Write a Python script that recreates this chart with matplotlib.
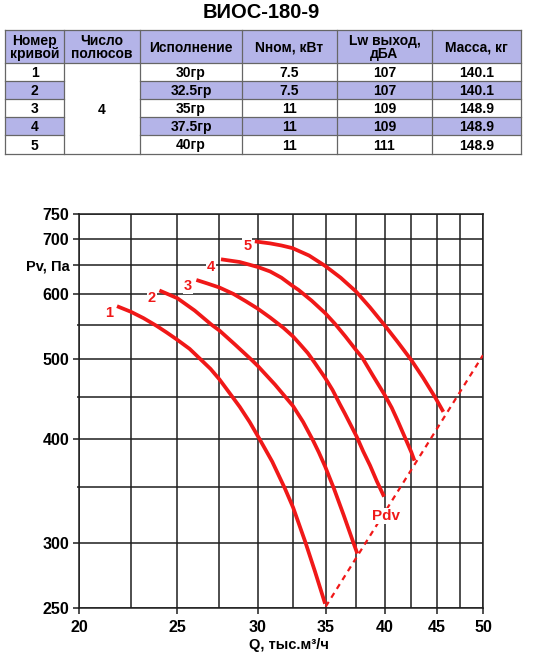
import matplotlib.pyplot as plt
from matplotlib.patches import Rectangle
from matplotlib.ticker import NullFormatter

plt.rcParams['font.family'] = ['Liberation Sans', 'DejaVu Sans']
plt.rcParams['font.weight'] = 'bold'

# ---------------- данные ----------------
title = 'ВИОС-180-9'

headers = ['Номер\nкривой', 'Число\nполюсов', 'Исполнение', 'Nном, кВт', 'Lw выход,\nдБА', 'Масса, кг']
curve_no = ['1', '2', '3', '4', '5']
poles = '4'
version = ['30гр', '32.5гр', '35гр', '37.5гр', '40гр']
power = ['7.5', '7.5', '11', '11', '11']
lw_out = ['107', '107', '109', '109', '111']
mass = ['140.1', '140.1', '148.9', '148.9', '148.9']

# кривые Pv(Q), Q в тыс. м3/ч, Pv в Па
q1 = [21.8, 22.5, 23.15, 23.85, 24.4, 25.0, 25.7, 26.4, 26.95, 27.5, 28.3, 28.8, 29.45, 30.1,
      31.0, 31.9, 32.5, 33.4, 34.15, 34.95]
p1 = [580, 571, 561, 549, 539, 528, 515, 499, 487, 473, 451, 438, 420, 401,
      376, 349, 331, 301, 277, 253]
q2 = [24.0, 25.0, 26.0, 27.0, 27.5, 28.5, 29.6, 30.0, 31.2, 32.5, 33.25, 34.0, 34.45, 34.95,
      35.65, 36.45, 37.3, 37.6]
p2 = [606, 593, 573, 551, 542, 521, 499, 491, 466, 439, 420, 399, 386, 371,
      349, 324, 299, 291]
q3 = [26.1, 26.75, 27.5, 28.4, 29.2, 30.0, 30.85, 31.8, 32.5, 33.0, 33.6, 34.15, 34.95, 35.55,
      36.15, 36.55, 37.55, 38.1, 38.7, 39.3, 39.95]
p3 = [624, 618, 611, 600, 588, 576, 562, 546, 533, 522, 509, 495, 475, 459,
      441, 430, 403, 387, 372, 356, 341]
q4 = [27.6, 28.8, 30.0, 30.85, 31.65, 32.45, 32.9, 33.9, 34.95, 35.75, 36.6, 37.5, 38.0, 38.95,
      40.0, 40.65, 41.2, 41.75, 42.5, 42.8]
p4 = [661, 656, 647, 639, 628, 614, 607, 589, 569, 552, 533, 513, 503, 478,
      453, 437, 421.5, 406, 386, 377]
q5 = [29.8, 30.3, 30.85, 31.65, 32.45, 33.7, 34.95, 36.2, 37.5, 38.7, 40.0, 41.2, 42.5, 43.65,
      44.85, 45.7]
p5 = [695, 693, 691, 687, 682, 668, 649, 628, 604, 578, 550, 525, 499, 475,
      450, 432]
curves = [(q1, p1), (q2, p2), (q3, p3), (q4, p4), (q5, p5)]

# подписи кривых
label_q = [21.4, 23.6, 25.6, 27.0, 29.3]
label_p = [569, 593, 613, 647, 686]

# динамическое давление
pdv_q = [35.0, 50.0]
pdv_p = [251, 506]

x_major = [20, 25, 30, 35, 40, 45, 50]
x_minor = [22.5, 27.5, 32.5, 37.5, 42.5, 47.5]
y_major = [250, 300, 400, 500, 600, 650, 700, 750]
y_labels = ['250', '300', '400', '500', '600', 'Pv, Па', '700', '750']
y_minor = [350, 450, 550]

RED = '#f01818'
LAV = '#b4b4e8'
GRID = '#1e1e1e'

fig = plt.figure(figsize=(5.35, 6.7), dpi=100)

# ---------------- таблица (в пикселях) ----------------
tab = fig.add_axes([0, 1 - 160 / 670, 1, 160 / 670])
tab.set_xlim(0, 535)
tab.set_ylim(160, 0)
tab.axis('off')

cx = [5, 64, 140, 242, 337, 432, 521]
ry = [30, 63, 81, 99, 117, 135, 154]

# фон
for j in range(6):
    tab.add_patch(Rectangle((cx[j], ry[0]), cx[j + 1] - cx[j], ry[1] - ry[0], fc=LAV, ec='none'))
for i in (1, 3):
    for j in (0, 2, 3, 4, 5):
        tab.add_patch(Rectangle((cx[j], ry[i + 1]), cx[j + 1] - cx[j], ry[i + 2] - ry[i + 1],
                                fc=LAV, ec='none'))

# линии
lc = '#666666'
for y in (ry[0], ry[1], ry[-1]):
    tab.plot([cx[0], cx[-1]], [y, y], color=lc, lw=0.9)
for y in ry[2:-1]:
    tab.plot([cx[0], cx[1]], [y, y], color=lc, lw=0.9)
    tab.plot([cx[2], cx[-1]], [y, y], color=lc, lw=0.9)
for x in cx:
    tab.plot([x, x], [ry[0], ry[-1]], color=lc, lw=0.9)

for j, h in enumerate(headers):
    tab.text((cx[j] + cx[j + 1]) / 2, (ry[0] + ry[1]) / 2 + 1, h, ha='center', va='center',
             fontsize=10, linespacing=0.95)

cols = [curve_no, None, version, power, lw_out, mass]
for j, col in enumerate(cols):
    if col is None:
        continue
    for i, v in enumerate(col):
        tab.text((cx[j] + cx[j + 1]) / 2, (ry[i + 1] + ry[i + 2]) / 2 + 1, v,
                 ha='center', va='center', fontsize=10)
tab.text((cx[1] + cx[2]) / 2, (ry[1] + ry[-1]) / 2 + 1, poles, ha='center', va='center', fontsize=10)

fig.text(261 / 535, 1 - 13 / 670, title, ha='center', va='center', fontsize=14.5)

# ---------------- график ----------------
ax = fig.add_axes([79 / 535, 62 / 670, 404 / 535, 394 / 670])
ax.set_xscale('log')
ax.set_yscale('log')
ax.set_xlim(20, 50)
ax.set_ylim(250, 750)

ax.set_xticks(x_major, labels=[str(v) for v in x_major])
ax.set_xticks(x_minor, minor=True)
ax.set_yticks(y_major, labels=y_labels)
ax.set_yticks(y_minor, minor=True)
ax.xaxis.set_minor_formatter(NullFormatter())
ax.yaxis.set_minor_formatter(NullFormatter())

ax.tick_params(which='major', direction='out', length=4, width=1.1, color=GRID, labelsize=11.5)
ax.tick_params(axis='x', which='major', pad=5)
ax.tick_params(axis='y', which='major', pad=3)
ax.tick_params(axis='x', which='minor', length=0)
ax.tick_params(axis='y', which='minor', length=1.5, width=1.1, color=GRID)
for t in ax.get_yticklabels():
    if t.get_text() == 'Pv, Па':
        t.set_fontsize(10.5)

ax.grid(True, which='both', color=GRID, lw=1.1)
ax.set_axisbelow(True)
for s in ax.spines.values():
    s.set_color(GRID)
    s.set_linewidth(1.1)

for q, p in curves:
    ax.plot(q, p, color=RED, lw=2.7, solid_capstyle='butt', solid_joinstyle='round', zorder=3)
ax.plot(pdv_q, pdv_p, color=RED, lw=1.6, linestyle=(0, (2.5, 2.2)), zorder=3)

for i, (q, p) in enumerate(zip(label_q, label_p)):
    ax.text(q, p, str(i + 1), color=RED, fontsize=10.5, ha='center', va='center', zorder=4,
            bbox=dict(fc='white', ec='none', pad=0.6))
ax.text(40.1, 323, 'Pdv', color=RED, fontsize=11, ha='center', va='center', zorder=4,
        bbox=dict(fc='white', ec='none', pad=0.6))

fig.text(289 / 535, 1 - 645 / 670, 'Q, тыс.м³/ч', ha='center', va='center', fontsize=10.5)

fig.savefig('out.png', dpi=100)
